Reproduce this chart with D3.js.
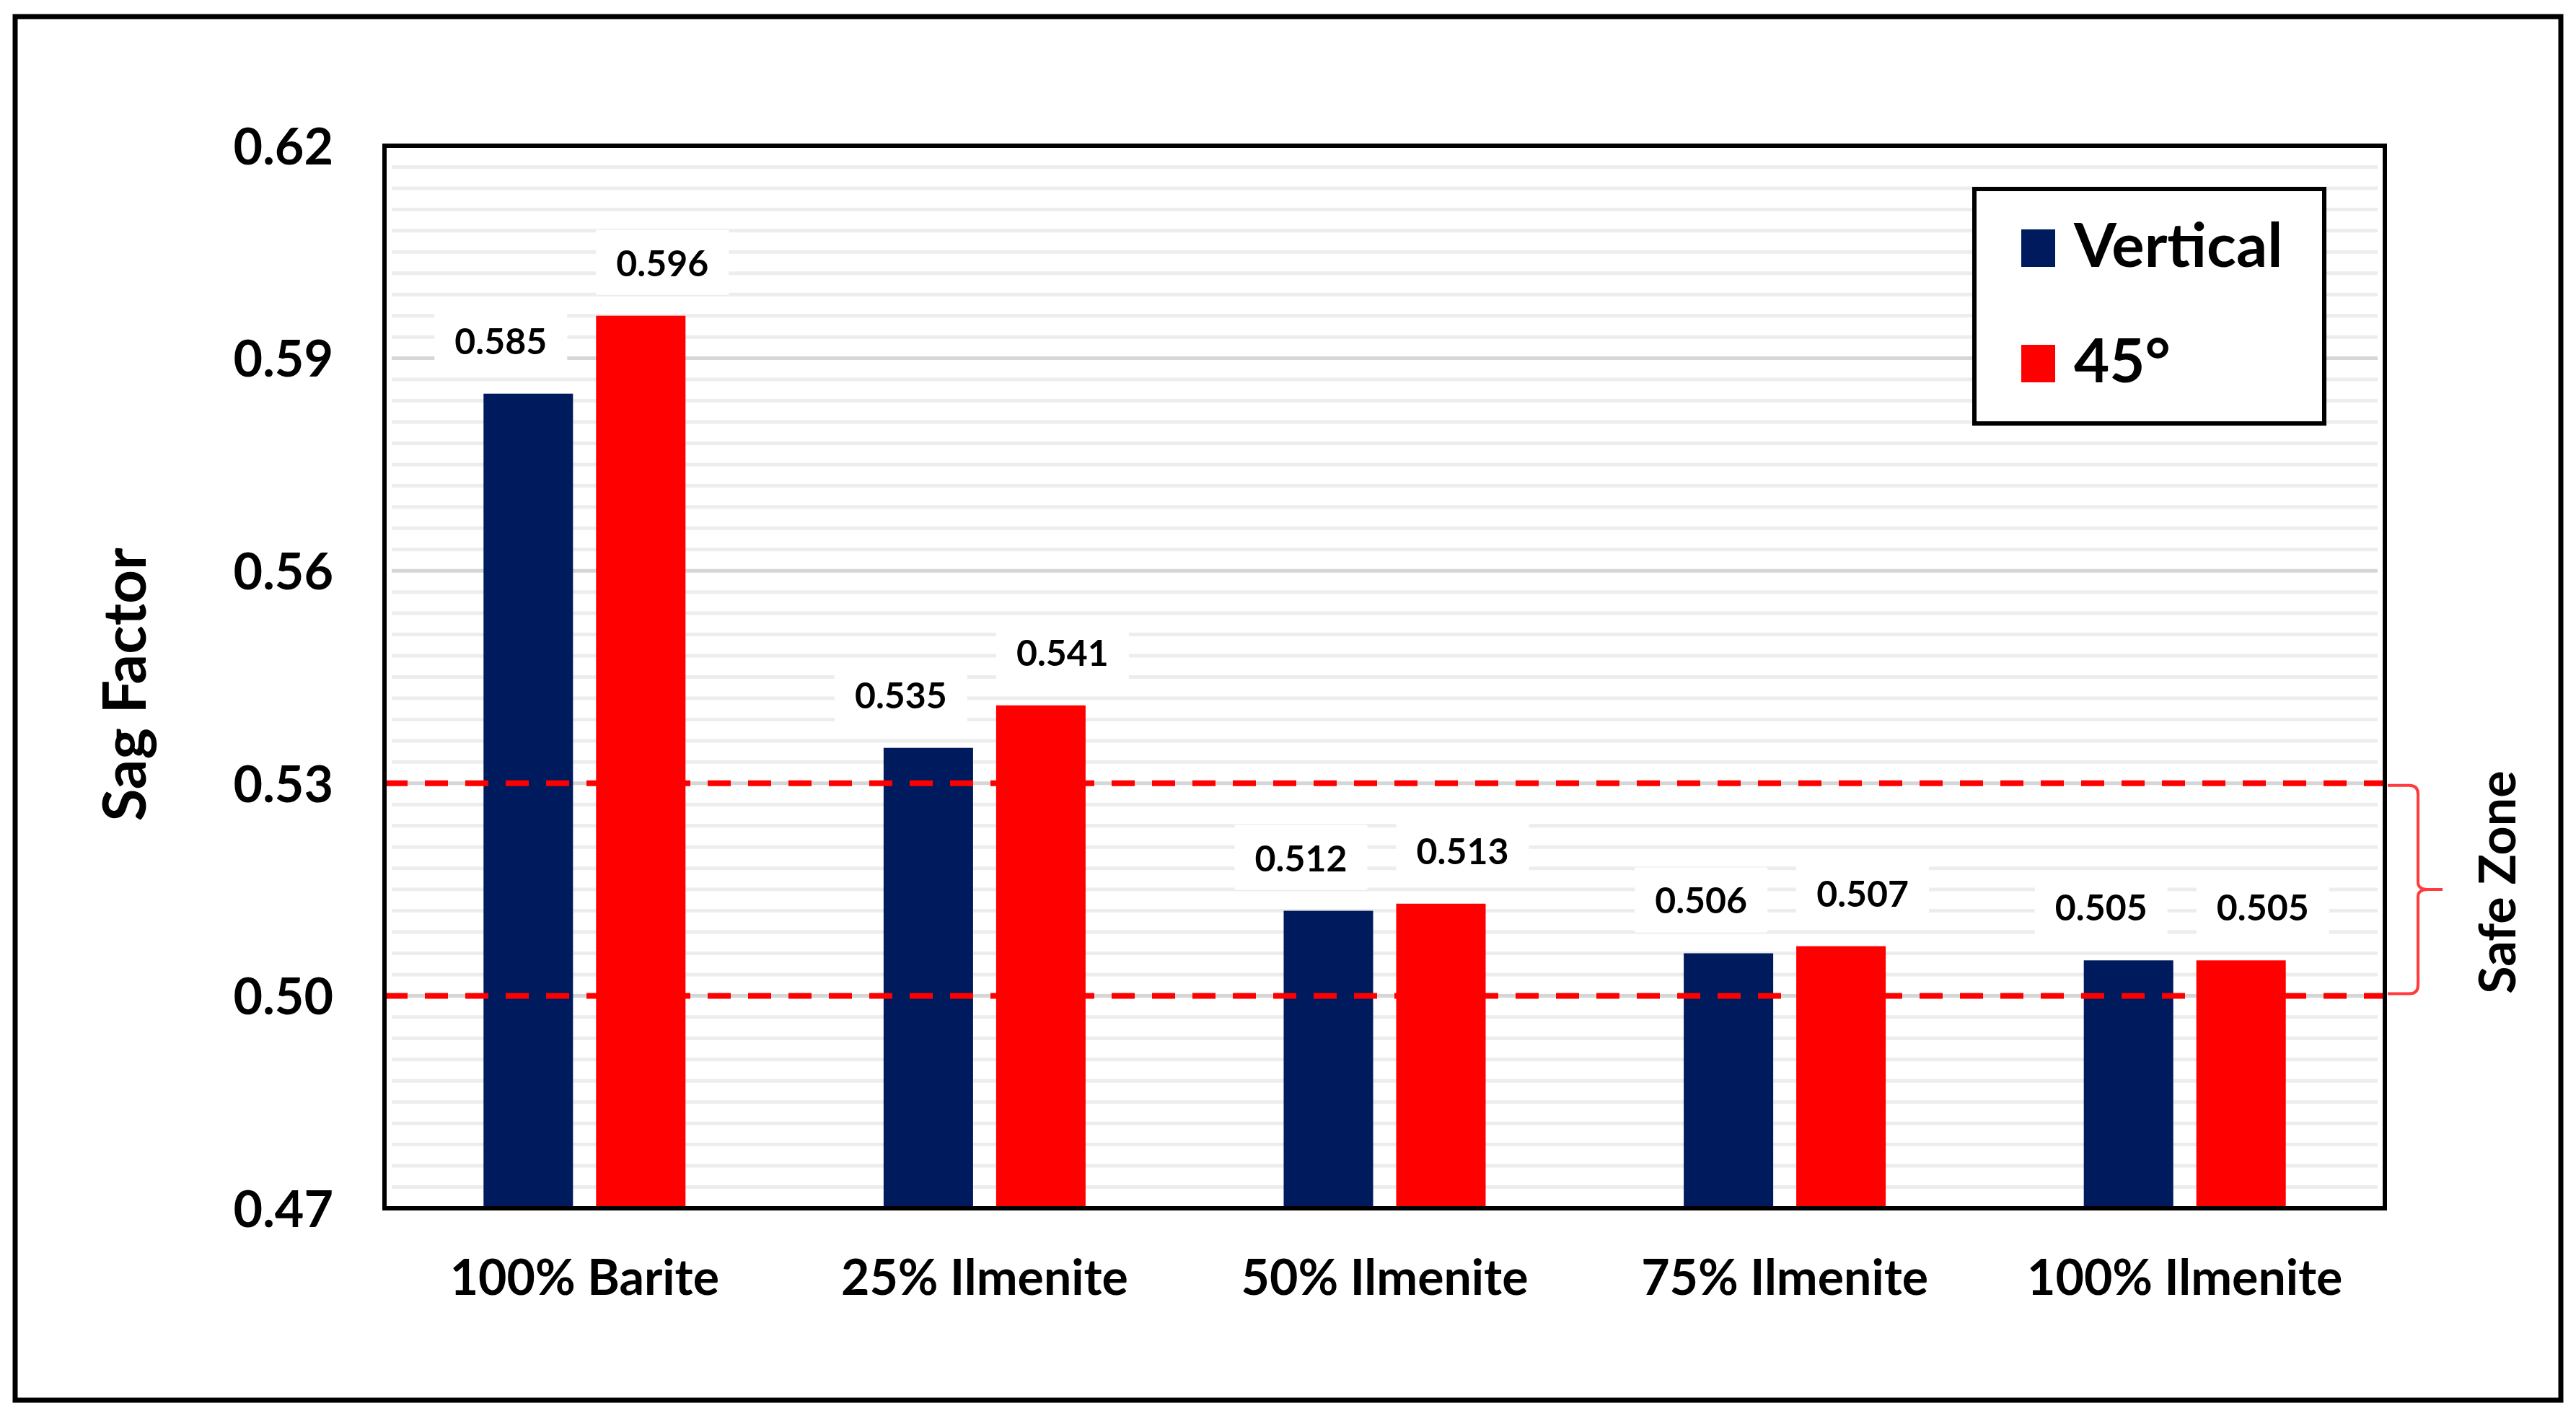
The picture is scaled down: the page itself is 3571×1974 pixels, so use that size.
<!DOCTYPE html>
<html>
<head>
<meta charset="utf-8">
<script src="https://cdn.jsdelivr.net/npm/d3@7"></script>
<style>
  body { margin: 0; background: #fff; }
  text { font-family: Lato, "Open Sans", sans-serif; }
</style>
</head>
<body>
<svg id="chart" width="3571" height="1974"></svg>
<script>
const categories = ["100% Barite", "25% Ilmenite", "50% Ilmenite", "75% Ilmenite", "100% Ilmenite"];
const seriesNames = ["Vertical", "45°"];
const verticalValues = [0.585, 0.535, 0.512, 0.506, 0.505];
const angledValues = [0.596, 0.541, 0.513, 0.507, 0.505];
const yTicks = [0.47, 0.50, 0.53, 0.56, 0.59, 0.62];
const safeZone = [0.50, 0.53];
const colors = ["#001a5e", "#ff0000"];

const svg = d3.select("#chart");

// plot area
const plotLeft = 533, plotRight = 3306, plotTop = 202, plotBottom = 1675;

const y = d3.scaleLinear().domain([0.47, 0.62]).range([plotBottom, plotTop]);
const x0 = d3.scaleBand().domain(categories).range([plotLeft, plotRight]);
const groupW = 280;
const x1 = d3.scaleBand().domain(seriesNames).range([0, groupW]).paddingInner(0.205);
const color = d3.scaleOrdinal().domain(seriesNames).range(colors);

// outer frame
svg.append("rect")
  .attr("x", 21).attr("y", 23)
  .attr("width", 3529).attr("height", 1918)
  .attr("fill", "none").attr("stroke", "#000").attr("stroke-width", 7);

// gridlines: minor every 0.003, major every 0.03
const minor = d3.range(0, 51).map(i => +(0.47 + i * 0.003).toFixed(3));
svg.append("g")
  .selectAll("line")
  .data(minor)
  .enter()
  .append("line")
  .attr("x1", plotLeft + 10).attr("x2", plotRight - 10)
  .attr("y1", d => y(d)).attr("y2", d => y(d))
  .attr("stroke", d => yTicks.some(t => Math.abs(t - d) < 1e-6) ? "#d6d6d6" : "#ededed")
  .attr("stroke-width", 5);

// rows of bars
const rows = categories.map((c, i) => ({
  cat: c,
  values: [
    { series: seriesNames[0], value: verticalValues[i] },
    { series: seriesNames[1], value: angledValues[i] }
  ]
}));

const groupOffset = (x0.bandwidth() - groupW) / 2;

const group = svg.append("g")
  .selectAll("g")
  .data(rows)
  .enter()
  .append("g")
  .attr("transform", d => `translate(${x0(d.cat) + groupOffset},0)`);

group.selectAll("rect")
  .data(d => d.values)
  .enter()
  .append("rect")
  .attr("x", d => x1(d.series))
  .attr("y", d => y(d.value))
  .attr("width", x1.bandwidth())
  .attr("height", d => plotBottom - y(d.value))
  .attr("fill", d => color(d.series));

// data labels with white boxes, nudged apart like the original
const labelDx = { "Vertical": -38, "45°": 30 };
const labels = group.selectAll("g.lbl")
  .data(d => d.values)
  .enter()
  .append("g")
  .attr("class", "lbl")
  .attr("transform", d => `translate(${x1(d.series) + x1.bandwidth() / 2 + labelDx[d.series]}, ${y(d.value) - 73})`);

labels.append("rect")
  .attr("x", -92).attr("y", -46)
  .attr("width", 184).attr("height", 90)
  .attr("fill", "#fff");

labels.append("text")
  .attr("text-anchor", "middle")
  .attr("dy", "0.36em")
  .attr("font-size", 50)
  .attr("font-weight", "bold")
  .text(d => d.value.toFixed(3));

// safe zone dashed lines
svg.append("g")
  .selectAll("line")
  .data(safeZone)
  .enter()
  .append("line")
  .attr("x1", plotLeft).attr("x2", plotRight)
  .attr("y1", d => y(d)).attr("y2", d => y(d))
  .attr("stroke", "#ff0000")
  .attr("stroke-width", 8)
  .attr("stroke-dasharray", "32 24");

// brace
const bTop = y(safeZone[1]) + 3, bBot = y(safeZone[0]) - 3, bMid = (bTop + bBot) / 2;
const bx = plotRight + 46, r = 12;
svg.append("path")
  .attr("d", `M${plotRight + 4},${bTop} H${bx - r} Q${bx},${bTop} ${bx},${bTop + r}
    V${bMid - 10} Q${bx},${bMid} ${bx + 14},${bMid} H${bx + 34}
    M${bx + 14},${bMid} Q${bx},${bMid} ${bx},${bMid + 10}
    V${bBot - r} Q${bx},${bBot} ${bx - r},${bBot} H${plotRight + 4}`)
  .attr("fill", "none")
  .attr("stroke", "#ff3b3b")
  .attr("stroke-width", 4);

svg.append("text")
  .attr("transform", `translate(3487, ${bMid - 10}) rotate(-90)`)
  .attr("text-anchor", "middle")
  .attr("font-size", 70)
  .attr("font-weight", "bold")
  .text("Safe Zone");

// plot border
svg.append("rect")
  .attr("x", plotLeft).attr("y", plotTop)
  .attr("width", plotRight - plotLeft).attr("height", plotBottom - plotTop)
  .attr("fill", "none").attr("stroke", "#000").attr("stroke-width", 6);

// axes
const yAxis = svg.append("g")
  .attr("transform", `translate(${plotLeft},0)`)
  .call(d3.axisLeft(y).tickValues(yTicks).tickFormat(d3.format(".2f")).tickSize(0).tickPadding(71));
yAxis.select(".domain").remove();
yAxis.selectAll("text")
  .attr("font-size", 70)
  .attr("font-weight", "bold")
  .attr("fill", "#000")
  .attr("font-family", "Lato")
  .attr("dy", "0.36em");

const xAxis = svg.append("g")
  .attr("transform", `translate(0,${plotBottom})`)
  .call(d3.axisBottom(x0).tickSize(0).tickPadding(72));
xAxis.select(".domain").remove();
xAxis.selectAll("text")
  .attr("font-size", 68)
  .attr("font-weight", "bold")
  .attr("fill", "#000")
  .attr("font-family", "Lato");

// y title
svg.append("text")
  .attr("transform", `translate(202, 949) rotate(-90)`)
  .attr("text-anchor", "middle")
  .attr("font-size", 82)
  .attr("font-weight", "bold")
  .text("Sag Factor");

// legend
const legend = svg.append("g");
legend.append("rect")
  .attr("x", 2737).attr("y", 262)
  .attr("width", 485).attr("height", 325)
  .attr("fill", "#fff").attr("stroke", "#000").attr("stroke-width", 6);

const item = legend.selectAll("g")
  .data(seriesNames)
  .enter()
  .append("g")
  .attr("transform", (d, i) => `translate(2802, ${370 + i * 160})`);

item.append("rect")
  .attr("x", 0).attr("y", -52)
  .attr("width", 47).attr("height", 52)
  .attr("fill", d => color(d));

item.append("text")
  .attr("x", 73)
  .attr("font-size", 85)
  .attr("font-weight", "bold")
  .text(d => d);
</script>
</body>
</html>
